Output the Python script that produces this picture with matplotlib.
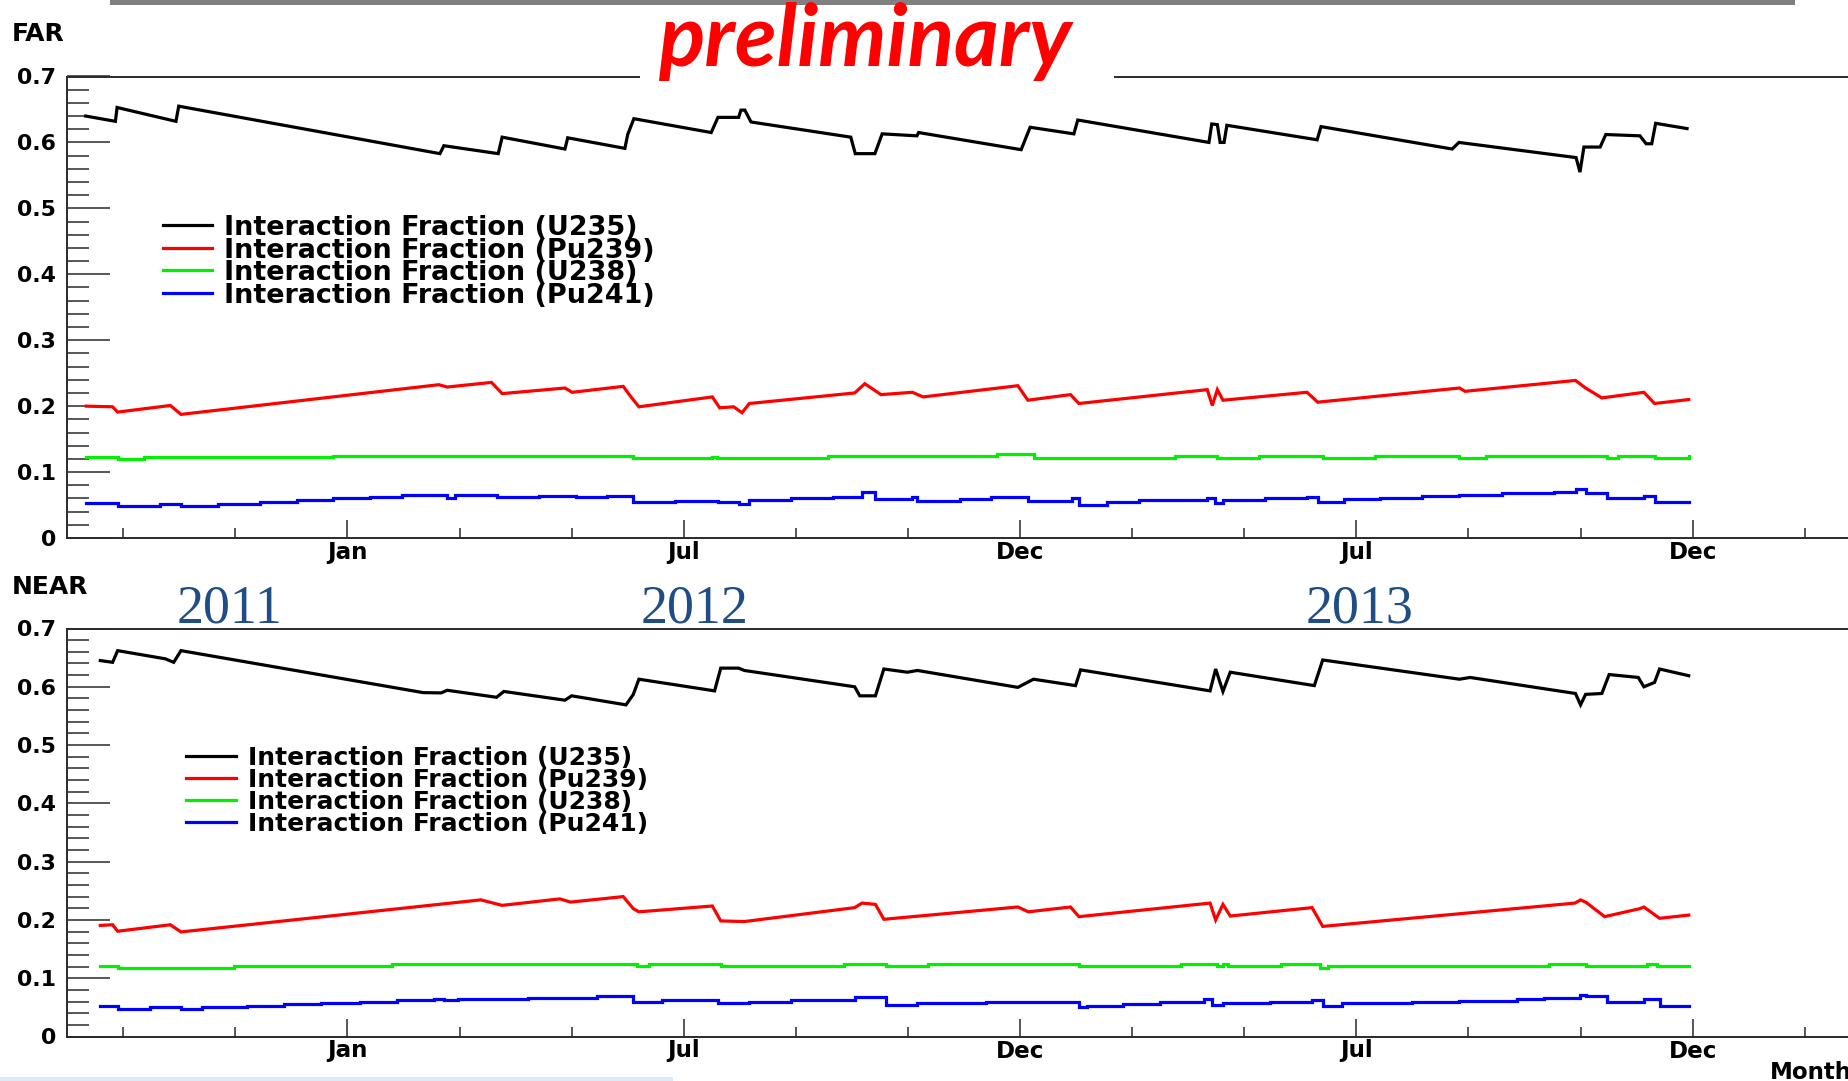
import matplotlib
matplotlib.use("Agg")
import matplotlib.pyplot as plt
from matplotlib.patches import Rectangle
from matplotlib.lines import Line2D
from matplotlib.ticker import MultipleLocator, FixedLocator, FixedFormatter, FuncFormatter

W, H, DPI = 1849, 1081, 100
PT = 72.0 / DPI  # points per pixel

# ---- time axis: months since 1 Aug 2011 ----
month_minor_ticks = [1, 3, 7, 9, 13, 15, 19, 21, 25, 27, 31]
month_major_ticks = [5, 11, 17, 23, 29]
month_labels = ["Jan", "Jul", "Dec", "Jul", "Dec"]
year_labels = ["2011", "2012", "2013"]

isotopes = ["U235", "Pu239", "U238", "Pu241"]
legend_labels = ["Interaction Fraction (%s)" % iso for iso in isotopes]
iso_colors = ["#000000", "#ff0000", "#00f000", "#0000ff"]

# ---- FAR detector ----
far_u235_t = [0.33, 0.86, 0.89, 1.94, 1.99, 6.65, 6.72, 7.69, 7.76, 8.88, 8.93, 9.95,
              10.00, 10.11, 11.49, 11.61, 11.98, 12.02, 12.09, 12.20, 13.98, 14.06,
              14.41, 14.54, 15.16, 15.19, 17.02, 17.18, 17.96, 18.03, 20.37, 20.42,
              20.52, 20.57, 20.64, 20.69, 22.30, 22.37, 24.71, 24.83, 26.92, 26.99,
              27.06, 27.35, 27.45, 28.06, 28.17, 28.27, 28.34, 28.90]
far_u235 = [0.640, 0.632, 0.653, 0.632, 0.655, 0.583, 0.595, 0.583, 0.608, 0.590,
            0.607, 0.591, 0.612, 0.636, 0.615, 0.638, 0.638, 0.649, 0.649, 0.631,
            0.608, 0.583, 0.583, 0.613, 0.610, 0.615, 0.589, 0.623, 0.613, 0.634,
            0.600, 0.628, 0.627, 0.600, 0.600, 0.626, 0.604, 0.624, 0.590, 0.600,
            0.577, 0.555, 0.593, 0.593, 0.612, 0.610, 0.598, 0.598, 0.629, 0.621]

far_pu239_t = [0.34, 0.81, 0.90, 1.84, 2.03, 6.63, 6.78, 7.57, 7.76, 8.88, 9.01, 9.92,
               10.05, 10.20, 11.51, 11.64, 11.89, 12.04, 12.17, 14.05, 14.23, 14.52,
               15.08, 15.27, 16.96, 17.14, 17.90, 18.05, 20.34, 20.43, 20.52, 20.62,
               22.12, 22.31, 24.84, 24.94, 26.91, 27.09, 27.38, 28.13, 28.32, 28.93]
far_pu239 = [0.200, 0.199, 0.191, 0.201, 0.1875, 0.2325, 0.229, 0.236, 0.219, 0.2275,
             0.221, 0.230, 0.215, 0.199, 0.214, 0.1975, 0.199, 0.190, 0.204, 0.220,
             0.234, 0.2175, 0.221, 0.214, 0.231, 0.209, 0.2175, 0.204, 0.225, 0.201,
             0.225, 0.209, 0.221, 0.206, 0.2275, 0.2225, 0.239, 0.2275, 0.2125, 0.221,
             0.204, 0.210]

far_u238_t = [0.34, 0.90, 1.37, 4.75, 10.10, 11.50, 11.60, 13.58, 16.58, 17.24, 19.77,
              20.52, 21.27, 22.40, 23.34, 24.84, 25.31, 27.47, 27.66, 28.32, 28.93]
far_u238 = [0.1225, 0.120, 0.1225, 0.125, 0.122, 0.1235, 0.122, 0.125, 0.1275, 0.122,
            0.125, 0.122, 0.125, 0.122, 0.125, 0.122, 0.125, 0.122, 0.125, 0.122, 0.125]

far_pu241_t = [0.34, 0.90, 1.66, 2.03, 2.69, 3.44, 4.10, 4.75, 5.41, 5.97, 6.78, 6.91,
               7.66, 8.41, 9.07, 9.63, 10.10, 10.85, 11.61, 11.98, 12.17, 12.92, 13.67,
               14.18, 14.42, 15.08, 15.17, 15.93, 16.49, 17.15, 17.93, 18.05, 18.55,
               19.12, 20.34, 20.47, 20.62, 21.37, 22.12, 22.31, 22.78, 23.43, 24.18,
               24.84, 25.59, 26.53, 26.91, 27.09, 27.47, 28.13, 28.32, 28.93]
far_pu241 = [0.0525, 0.049, 0.0515, 0.049, 0.052, 0.055, 0.0575, 0.060, 0.0625, 0.065,
             0.061, 0.065, 0.0615, 0.064, 0.0615, 0.064, 0.055, 0.0565, 0.054, 0.051,
             0.0575, 0.060, 0.0625, 0.070, 0.059, 0.0625, 0.056, 0.059, 0.0625, 0.056,
             0.060, 0.050, 0.054, 0.0575, 0.060, 0.0525, 0.0575, 0.060, 0.0625, 0.055,
             0.059, 0.061, 0.064, 0.065, 0.0675, 0.070, 0.075, 0.069, 0.061, 0.064,
             0.054, 0.054]

# ---- NEAR detector ----
near_u235_t = [0.59, 0.81, 0.90, 1.75, 1.90, 2.03, 6.35, 6.67, 6.78, 7.66, 7.79, 8.88,
               9.00, 9.97, 10.10, 10.20, 11.55, 11.66, 11.98, 12.08, 14.05, 14.14, 14.42,
               14.57, 14.99, 15.17, 16.96, 17.24, 17.99, 18.08, 20.39, 20.49, 20.62,
               20.75, 22.25, 22.40, 24.84, 25.03, 26.91, 27.00, 27.09, 27.38, 27.51,
               28.03, 28.13, 28.32, 28.41, 28.93]
near_u235 = [0.645, 0.642, 0.662, 0.648, 0.642, 0.662, 0.590, 0.5895, 0.594, 0.582,
             0.592, 0.577, 0.5845, 0.569, 0.587, 0.613, 0.593, 0.632, 0.632, 0.628,
             0.600, 0.5845, 0.5845, 0.6305, 0.625, 0.628, 0.599, 0.613, 0.602, 0.629,
             0.593, 0.6305, 0.592, 0.625, 0.602, 0.646, 0.613, 0.616, 0.5885, 0.569,
             0.587, 0.5885, 0.621, 0.616, 0.600, 0.6075, 0.6305, 0.619]

near_pu239_t = [0.59, 0.81, 0.90, 1.84, 2.03, 7.38, 7.76, 8.79, 8.98, 9.92, 10.10, 10.20,
                11.51, 11.66, 12.08, 14.05, 14.18, 14.42, 14.57, 16.96, 17.15, 17.90,
                18.05, 20.39, 20.49, 20.62, 20.75, 22.21, 22.40, 26.90, 27.00, 27.10,
                27.43, 28.06, 28.13, 28.41, 28.93]
near_pu239 = [0.1906, 0.1917, 0.1806, 0.1917, 0.1794, 0.2344, 0.225, 0.2361, 0.2306,
              0.240, 0.2194, 0.2139, 0.2239, 0.1983, 0.1972, 0.2211, 0.2289, 0.2267,
              0.2011, 0.2222, 0.2139, 0.2222, 0.2056, 0.2289, 0.200, 0.2267, 0.2067,
              0.2211, 0.1889, 0.2289, 0.2344, 0.230, 0.2056, 0.2194, 0.2222, 0.2028,
              0.2083]

near_u238_t = [0.59, 0.90, 2.97, 5.79, 10.16, 10.38, 11.66, 13.86, 14.61, 15.36, 18.05,
               19.87, 20.52, 20.62, 20.71, 21.65, 22.36, 22.49, 26.44, 27.09, 28.18,
               28.37, 28.93]
near_u238 = [0.1206, 0.1178, 0.1211, 0.1244, 0.1206, 0.1244, 0.1211, 0.1244, 0.1206,
             0.1244, 0.1211, 0.1244, 0.1206, 0.1244, 0.1211, 0.1244, 0.1167, 0.1211,
             0.1244, 0.1211, 0.1239, 0.1211, 0.1211]

near_pu241_t = [0.59, 0.90, 1.47, 2.03, 2.41, 3.21, 3.87, 4.53, 5.22, 5.88, 6.54, 6.72,
                6.97, 7.57, 8.23, 9.45, 10.10, 10.61, 11.61, 12.17, 12.92, 14.05, 14.61,
                15.17, 15.74, 16.39, 18.05, 18.20, 18.83, 19.50, 20.29, 20.43, 20.62,
                21.46, 22.21, 22.40, 22.74, 24.00, 24.84, 25.87, 26.34, 26.99, 27.09,
                27.47, 28.13, 28.41, 28.93]
near_pu241 = [0.0522, 0.0472, 0.050, 0.0467, 0.050, 0.0522, 0.0556, 0.0578, 0.060,
              0.0628, 0.065, 0.0622, 0.065, 0.0639, 0.0667, 0.0689, 0.0589, 0.0622,
              0.0567, 0.0594, 0.0628, 0.0683, 0.0539, 0.0567, 0.0578, 0.0594, 0.0511,
              0.0528, 0.0556, 0.0594, 0.0639, 0.0544, 0.0583, 0.060, 0.0622, 0.0528,
              0.0567, 0.0594, 0.0611, 0.0639, 0.0667, 0.0711, 0.0689, 0.0594, 0.065,
              0.0517, 0.0517]

far_series = [(far_u235_t, far_u235, "default"), (far_pu239_t, far_pu239, "default"),
              (far_u238_t, far_u238, "steps-post"), (far_pu241_t, far_pu241, "steps-post")]
near_series = [(near_u235_t, near_u235, "default"), (near_pu239_t, near_pu239, "default"),
               (near_u238_t, near_u238, "steps-post"), (near_pu241_t, near_pu241, "steps-post")]


def fx(px):
    return px / W


def fy(py):
    return 1.0 - py / H


plt.rcParams["font.family"] = ["DejaVu Sans"]
plt.rcParams["font.weight"] = "bold"

fig = plt.figure(figsize=(W / DPI, H / DPI), dpi=DPI)
fig.patch.set_facecolor("white")

X0 = 67.2          # left frame, pixels
PX_PER_MONTH = 56.05
XMAX = 33.0
frame_col = "#2a2a2a"
LW = 2.3


def make_panel(top_px, bottom_px, series):
    ax = fig.add_axes([fx(X0), fy(bottom_px), XMAX * PX_PER_MONTH / W,
                       (bottom_px - top_px) / H])
    ax.set_xlim(0, XMAX)
    ax.set_ylim(0, 0.7)
    ax.set_facecolor("white")
    for (t, v, ds), col in zip(series, iso_colors):
        ax.plot(t, v, color=col, lw=LW, drawstyle=ds, solid_joinstyle="miter")
    for side in ("left", "top", "bottom"):
        ax.spines[side].set_color(frame_col)
        ax.spines[side].set_linewidth(1.4)
    ax.spines["right"].set_visible(False)

    ax.yaxis.set_major_locator(MultipleLocator(0.1))
    ax.yaxis.set_minor_locator(MultipleLocator(0.02))
    ax.yaxis.set_major_formatter(FuncFormatter(lambda v, p: "0" if abs(v) < 1e-9 else "%.1f" % v))
    ax.tick_params(axis="y", which="major", direction="in", length=43 * PT, width=1.1,
                   color=frame_col, pad=11 * PT, labelsize=22 * PT, right=False)
    ax.tick_params(axis="y", which="minor", direction="in", length=22 * PT, width=1.1,
                   color=frame_col, right=False)

    ax.xaxis.set_major_locator(FixedLocator(month_major_ticks))
    ax.xaxis.set_major_formatter(FixedFormatter(month_labels))
    ax.xaxis.set_minor_locator(FixedLocator(month_minor_ticks))
    ax.tick_params(axis="x", which="major", direction="in", length=18 * PT, width=1.1,
                   color=frame_col, pad=3 * PT, labelsize=23 * PT, top=False)
    ax.tick_params(axis="x", which="minor", direction="in", length=10 * PT, width=1.1,
                   color=frame_col, top=False)
    for lab in ax.get_xticklabels() + ax.get_yticklabels():
        lab.set_fontweight("bold")
    return ax


ax_far = make_panel(76.5, 538.0, far_series)
ax_near = make_panel(628.5, 1036.5, near_series)


def draw_key(line_x0, line_x1, text_x, centers, size_px):
    for lab, col, cy in zip(legend_labels, iso_colors, centers):
        fig.add_artist(Line2D([fx(line_x0), fx(line_x1)], [fy(cy), fy(cy)],
                              color=col, lw=LW, transform=fig.transFigure, zorder=4))
        fig.text(fx(text_x), fy(cy + 0.37 * size_px), lab, ha="left", va="baseline",
                 fontsize=size_px * PT, fontweight="bold", color="black", zorder=4)


draw_key(163, 212, 224, [225.0, 247.7, 270.3, 293.0], 27)
draw_key(186, 236, 248, [755.5, 777.7, 799.9, 822.1], 25)

# detector names and axis title
fig.text(fx(12), fy(41), "FAR", ha="left", va="baseline", fontsize=25 * PT, fontweight="bold")
fig.text(fx(12), fy(594), "NEAR", ha="left", va="baseline", fontsize=25 * PT, fontweight="bold")
fig.text(fx(1770), fy(1079), "Month", ha="left", va="baseline", fontsize=23 * PT, fontweight="bold")

# year annotations
for yl, x_left in zip(year_labels, [177, 641, 1306]):
    fig.text(fx(x_left), fy(622.5), yl, ha="left", va="baseline", fontsize=54 * PT,
             family="Liberation Serif", fontweight="normal", color="#1f4e86", zorder=6)

# slide decorations: grey rule at the top, label box, light strip at the bottom
fig.add_artist(Rectangle((fx(110), fy(5)), fx(1795) - fx(110), 5 / H,
                         transform=fig.transFigure, facecolor="#808080", edgecolor="none", zorder=5))
fig.add_artist(Rectangle((fx(640), fy(98)), fx(1114) - fx(640), 88 / H,
                         transform=fig.transFigure, facecolor="white", edgecolor="none", zorder=5))
fig.add_artist(Rectangle((fx(0), fy(1081)), fx(673), 4 / H,
                         transform=fig.transFigure, facecolor="#dceaf8", edgecolor="none", zorder=5))
fig.text(fx(658), fy(66), "preliminary", ha="left", va="baseline", fontsize=86 * PT,
         family="Lato", fontweight="bold", style="italic", color="#ff0000", zorder=6)

fig.savefig("out.png", dpi=DPI, facecolor="white")
